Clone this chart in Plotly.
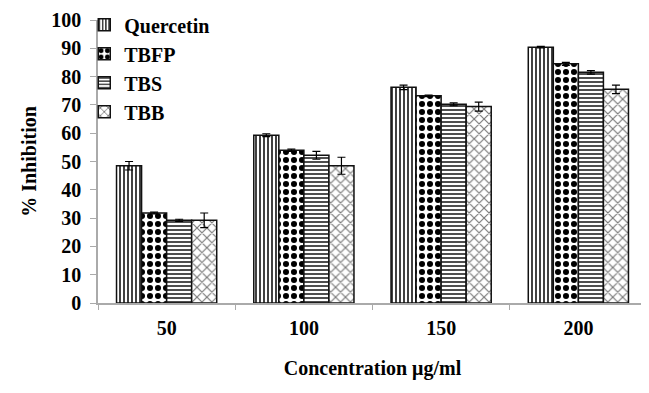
import plotly.graph_objects as go

categories = ["50", "100", "150", "200"]
series_names = ["Quercetin", "TBFP", "TBS", "TBB"]
quercetin = [48.5, 59.3, 76.2, 90.4]
tbfp = [31.8, 54.0, 73.2, 84.5]
tbs = [29.2, 52.2, 70.2, 81.5]
tbb = [29.2, 48.5, 69.4, 75.5]
quercetin_err = [1.5, 0.5, 0.8, 0.3]
tbfp_err = [0.3, 0.4, 0.3, 0.5]
tbs_err = [0.4, 1.4, 0.5, 0.6]
tbb_err = [2.6, 3.0, 1.6, 1.5]

values = [quercetin, tbfp, tbs, tbb]
errors = [quercetin_err, tbfp_err, tbs_err, tbb_err]
patterns = [
    dict(shape="|", fgcolor="#111111", bgcolor="white", fgopacity=1, size=4, solidity=0.4),
    dict(shape=".", fgcolor="black", bgcolor="white", fgopacity=1, size=8, solidity=0.45),
    dict(shape="-", fgcolor="#222222", bgcolor="white", fgopacity=1, size=4, solidity=0.4),
    dict(shape="x", fgcolor="#777777", bgcolor="white", fgopacity=1, size=7, solidity=0.3),
]

font_family = "Liberation Serif"

fig = go.Figure()
for name, vals, errs, pat in zip(series_names, values, errors, patterns):
    fig.add_trace(go.Bar(
        name=name, x=categories, y=vals,
        marker=dict(color="white", pattern=pat, line=dict(color="#111111", width=1.5)),
        error_y=dict(type="data", array=errs, color="black", thickness=1.2, width=4),
    ))

# page body has an 8px default margin, so the figure is sized/offset to compensate
fig.update_layout(
    width=641, height=385,
    margin=dict(l=90, r=2, t=12, b=90, autoexpand=False),
    paper_bgcolor="white", plot_bgcolor="white",
    barmode="group", bargap=0.27, bargroupgap=0,
    font=dict(family=font_family, color="black"),
    showlegend=True,
    legend=dict(
        x=-0.025, y=1.052, xanchor="left", yanchor="top",
        font=dict(family=font_family, size=20, color="black", weight="bold"),
        bgcolor="rgba(0,0,0,0)", tracegroupgap=0, itemwidth=30,
    ),
    xaxis=dict(
        showline=True, linecolor="#aaaaaa", linewidth=1.5,
        ticks="outside", tickson="boundaries", ticklen=5, tickcolor="#aaaaaa",
        tickfont=dict(family=font_family, size=20, weight="bold"), ticklabelstandoff=6,
        title=dict(text="Concentration μg/ml", font=dict(family=font_family, size=20, weight="bold"), standoff=23),
        showgrid=False, automargin=False,
    ),
    yaxis=dict(
        range=[0, 100], dtick=10,
        showline=True, linecolor="#aaaaaa", linewidth=1.5,
        ticks="outside", ticklen=6, tickcolor="#aaaaaa",
        tickfont=dict(family=font_family, size=20, weight="bold"), ticklabelstandoff=5,
        title=dict(text="% Inhibition", font=dict(family=font_family, size=20, weight="bold"), standoff=9),
        showgrid=False, zeroline=False, automargin=False,
    ),
)

fig.write_html("out.html")
